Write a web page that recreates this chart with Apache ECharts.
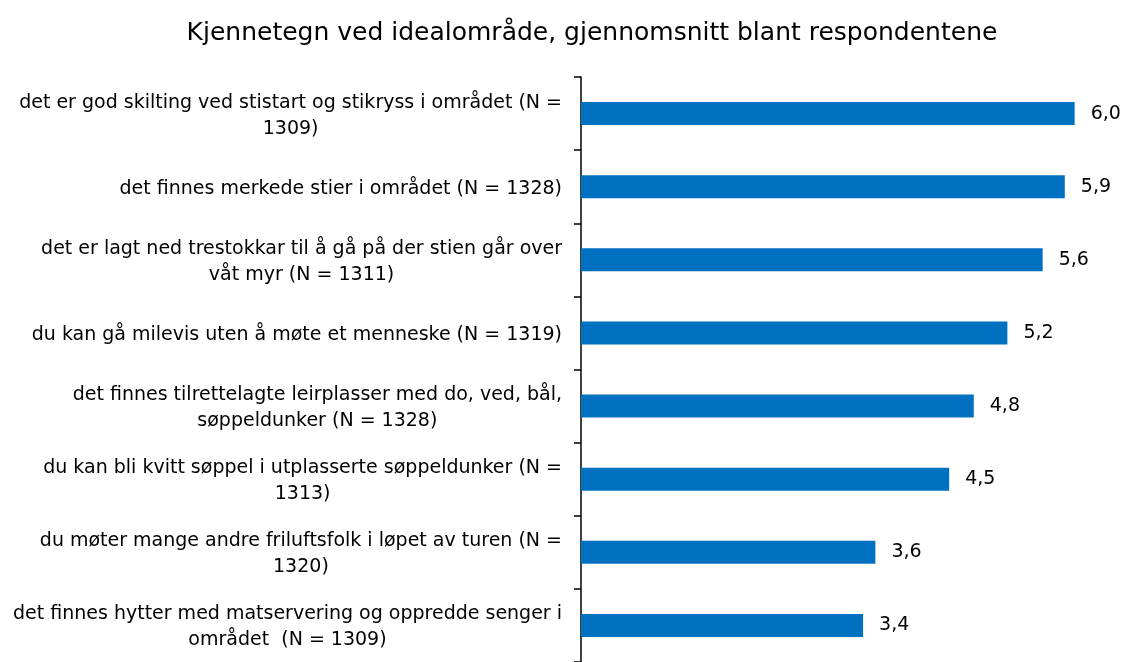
<!DOCTYPE html>
<html>
<head>
<meta charset="utf-8">
<script src="https://cdn.jsdelivr.net/npm/echarts@6/dist/echarts.min.js"></script>
<style>
  html, body { margin: 0; padding: 0; background: #fff; }
  #main { width: 1126px; height: 662px; }
</style>
</head>
<body>
<div id="main"></div>
<script>
// kategorier (linjeskift som i originalen)
const categories = [
  'det er god skilting ved stistart og stikryss i området (N =\n1309)',
  'det finnes merkede stier i området (N = 1328)',
  'det er lagt ned trestokkar til å gå på der stien går over\nvåt myr (N = 1311)',
  'du kan gå milevis uten å møte et menneske (N = 1319)',
  'det finnes tilrettelagte leirplasser med do, ved, bål,\nsøppeldunker (N = 1328)',
  'du kan bli kvitt søppel i utplasserte søppeldunker (N =\n1313)',
  'du møter mange andre friluftsfolk i løpet av turen (N =\n1320)',
  'det finnes hytter med matservering og oppredde senger i\nområdet  (N = 1309)'
];
// gjennomsnitt
const averages = [6.02, 5.90, 5.63, 5.20, 4.79, 4.49, 3.59, 3.44];

const chartTitle = 'Kjennetegn ved idealområde, gjennomsnitt blant respondentene';
const fontFamily = 'DejaVu Sans';

const chart = echarts.init(document.getElementById('main'));

chart.setOption({
  animation: false,
  title: {
    text: chartTitle,
    left: 587,
    textAlign: 'center',
    top: 16,
    textStyle: { fontFamily, fontSize: 25, fontWeight: 'normal', color: '#000' }
  },
  grid: { left: 581, right: 12, top: 77, bottom: -3, containLabel: false },
  xAxis: {
    type: 'value',
    min: 0,
    max: 6.5,
    show: false
  },
  yAxis: {
    type: 'category',
    data: categories,
    inverse: true,
    axisLine: { show: true, lineStyle: { color: '#000', width: 1.5 } },
    axisTick: { show: true, length: 7, lineStyle: { color: '#000', width: 1.5 } },
    axisLabel: {
      margin: 19,
      formatter: v => '{c|' + v + '}',
      rich: {
        c: { align: 'center', fontFamily, fontSize: 19, lineHeight: 26, padding: [4, 0, 0, 0], color: '#000' }
      }
    },
    splitLine: { show: false }
  },
  series: [{
    type: 'bar',
    data: averages,
    barWidth: 23,
    itemStyle: { color: '#0070c0' },
    label: {
      show: true,
      position: 'right',
      distance: 16,
      fontFamily,
      fontSize: 19,
      padding: [4, 0, 0, 0],
      color: '#000',
      formatter: p => p.value.toFixed(1).replace('.', ',')
    }
  }]
});
</script>
</body>
</html>
